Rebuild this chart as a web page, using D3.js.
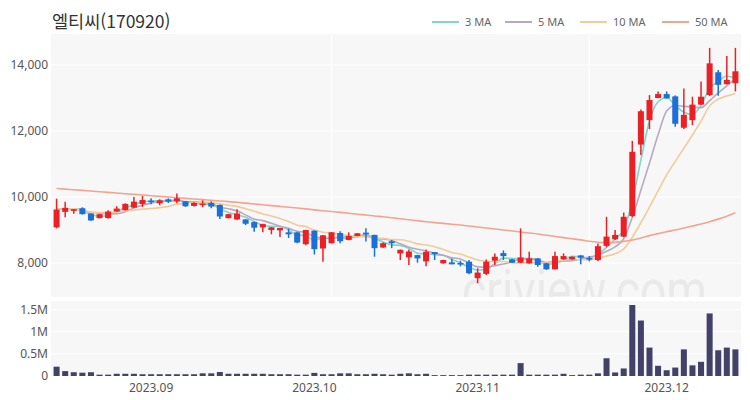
<!DOCTYPE html>
<html lang="ko">
<head>
    <meta charset="UTF-8">
    <script src="https://d3js.org/d3.v7.min.js"></script>
    <title>엘티씨(170920)</title>
    <style>
        body {
            margin: 0;
            overflow: hidden;
            background: white;
        }

        text {
            font-family: "Noto Sans CJK KR", "Noto Sans", sans-serif;
        }
    </style>
</head>
<body>
    <script>
        const width = 750,
              height = 400;

        // trading days, 2023
        const dates = [
            "08-17","08-18","08-21","08-22","08-23","08-24","08-25","08-28","08-29","08-30","08-31",
            "09-01","09-04","09-05","09-06","09-07","09-08","09-11","09-12","09-13","09-14","09-15",
            "09-18","09-19","09-20","09-21","09-22","09-25","09-26","09-27",
            "10-04","10-05","10-06","10-10","10-11","10-12","10-13","10-16","10-17","10-18","10-19",
            "10-20","10-23","10-24","10-25","10-26","10-27","10-30","10-31",
            "11-01","11-02","11-03","11-06","11-07","11-08","11-09","11-10","11-13","11-14","11-15",
            "11-16","11-17","11-20","11-21","11-22","11-23","11-24","11-27","11-28","11-29","11-30",
            "12-01","12-04","12-05","12-06","12-07","12-08","12-11","12-12","12-13"
        ];

        const open = [
            9080, 9550, 9580, 9660, 9500, 9360, 9360, 9560, 9600, 9680, 9790, 9890, 9810, 9930, 9870, 9870,
            9730, 9760, 9820, 9760, 9360, 9320, 9320, 9240, 9080, 9000, 8990, 8930, 8930, 8570, 8980, 8440,
            8600, 8910, 8700, 8820, 8920, 8850, 8470, 8660, 8290, 8170, 8240, 8050, 8330, 7990, 8020, 8000,
            8040, 7540, 7670, 8070, 8300, 8110, 8010, 7990, 8140, 7990, 7810, 8110, 8110, 8230, 8150, 8090,
            8520, 8720, 8800, 9420, 11590, 12330, 13000, 13120, 13050, 12100, 12330, 12800, 13090, 13780, 13420, 13450
        ];
        const high = [
            9950, 9860, 9640, 9690, 9510, 9490, 9600, 9720, 9810, 10000, 10030, 9960, 9930, 9960, 10110, 9880,
            9840, 9900, 9870, 9770, 9490, 9630, 9330, 9260, 9190, 9090, 9070, 9040, 8950, 9010, 8990, 8850,
            8940, 8960, 8930, 8910, 9050, 8860, 8620, 8700, 8410, 8410, 8250, 8410, 8330, 8100, 8140, 8070,
            8090, 7840, 8110, 8290, 8380, 8130, 9050, 8340, 8150, 8000, 8340, 8290, 8200, 8240, 8210, 8590,
            9400, 9000, 9530, 11700, 12650, 13090, 13200, 13200, 13080, 13290, 13040, 13500, 14520, 13850, 14270, 14520
        ];
        const low = [
            9050, 9390, 9490, 9470, 9270, 9350, 9350, 9550, 9590, 9670, 9700, 9780, 9750, 9820, 9810, 9700,
            9710, 9690, 9660, 9330, 9350, 9300, 9150, 8950, 8930, 8870, 8790, 8760, 8600, 8540, 8260, 8040,
            8590, 8600, 8690, 8810, 8650, 8190, 8460, 8450, 8090, 7940, 8010, 7900, 8090, 7980, 7960, 7900,
            7660, 7390, 7640, 7940, 8090, 8000, 8000, 7980, 7890, 7790, 7800, 8100, 8100, 7960, 8050, 8060,
            8480, 8700, 8780, 9400, 11270, 12060, 12990, 12980, 12130, 12060, 12180, 12790, 13060, 13070, 13410, 13200
        ];
        const close = [
            9620, 9670, 9630, 9480, 9290, 9480, 9560, 9650, 9790, 9860, 9910, 9860, 9900, 9860, 9960, 9720,
            9820, 9800, 9710, 9410, 9480, 9500, 9190, 9070, 9180, 9080, 9060, 8870, 8620, 9000, 8420, 8840,
            8930, 8660, 8820, 8900, 8870, 8450, 8600, 8600, 8400, 8350, 8140, 8340, 8270, 8090, 7960, 7960,
            7690, 7710, 8040, 8190, 8210, 8010, 8170, 8140, 7940, 7810, 8210, 8210, 8190, 8160, 8120, 8510,
            8800, 8850, 9400, 11370, 12600, 12940, 13120, 12990, 12220, 12490, 12800, 13040, 14050, 13400, 13550, 13810
        ];
        const volume = [
            210000, 110000, 85000, 75000, 85000, 30000, 30000, 50000, 50000, 50000, 40000, 40000, 40000, 40000, 40000, 40000,
            40000, 60000, 60000, 90000, 50000, 50000, 50000, 50000, 50000, 40000, 40000, 40000, 30000, 30000, 70000, 40000,
            40000, 60000, 60000, 40000, 40000, 50000, 40000, 30000, 50000, 60000, 40000, 50000, 20000, 20000, 20000, 20000,
            30000, 30000, 30000, 30000, 30000, 30000, 290000, 30000, 30000, 30000, 30000, 50000, 20000, 30000, 30000, 60000,
            400000, 80000, 170000, 1600000, 1250000, 640000, 230000, 130000, 190000, 600000, 240000, 320000, 1410000, 580000, 640000, 600000
        ];
        // 50 day average (needs history before the window)
        const ma50 = [
            10260, 10240, 10220, 10200, 10180, 10160, 10140, 10120, 10100, 10080, 10060, 10040, 10020, 10000, 9980, 9960,
            9940, 9920, 9900, 9880, 9860, 9840, 9815, 9790, 9765, 9740, 9715, 9690, 9665, 9640, 9610, 9585,
            9560, 9535, 9510, 9480, 9455, 9425, 9400, 9370, 9340, 9310, 9280, 9250, 9225, 9200, 9175, 9150,
            9120, 9090, 9060, 9030, 9000, 8970, 8940, 8910, 8880, 8840, 8805, 8770, 8735, 8700, 8660, 8630,
            8615, 8625, 8655, 8700, 8760, 8830, 8890, 8950, 9000, 9060, 9120, 9180, 9250, 9330, 9420, 9520
        ];

        const monthTicks = ["09-01", "10-04", "11-01", "12-01"];
        const monthLabels = ["2023.09", "2023.10", "2023.11", "2023.12"];
        const priceTicks = [8000, 10000, 12000, 14000];
        const volTicks = [0, 500000, 1000000, 1500000];
        const gridCols = ["10-06", "11-20"];

        const maNames = ["3 MA", "5 MA", "10 MA", "50 MA"];
        const maColors = ["#7fd6c9", "#b7a9c4", "#f2cb98", "#f5a28f"];

        const up = "#ec1f25", down = "#1b6fd8";

        const candles = dates.map((d, i) => ({
            date: d, o: open[i], h: high[i], l: low[i], c: close[i], v: volume[i]
        }));

        const movingAvg = (n) => close.map((c, i) => {
            const s = close.slice(Math.max(0, i - n + 1), i + 1);
            return d3.mean(s);
        });

        const maSeries = [movingAvg(3), movingAvg(5), movingAvg(10), ma50];

        const left = 51, right = 741;
        const pTop = 34, pBottom = 297;
        const vTop = 301, vBottom = 376;

        const svg = d3.select('body')
            .append('svg')
            .attr('width', width)
            .attr('height', height);

        const x = d3.scaleBand()
            .domain(dates)
            .range([left, right])
            .padding(0.3);

        const cx = (d) => x(d) + x.bandwidth() / 2;

        const y = d3.scaleLinear()
            .domain([6970, 14940])
            .range([pBottom, pTop]);

        const yv = d3.scaleLinear()
            .domain([0, 1690000])
            .range([vBottom, vTop]);

        // panels
        svg.append('rect')
            .attr('x', left).attr('y', pTop)
            .attr('width', right - left).attr('height', pBottom - pTop)
            .attr('fill', '#f7f7f7');
        svg.append('rect')
            .attr('x', left).attr('y', vTop)
            .attr('width', right - left).attr('height', vBottom - vTop)
            .attr('fill', '#f7f7f7');

        svg.append('defs').append('clipPath')
            .attr('id', 'pclip')
            .append('rect')
            .attr('x', left).attr('y', pTop)
            .attr('width', right - left).attr('height', pBottom - pTop);

        // grid
        svg.append('g')
            .selectAll('line')
            .data(priceTicks)
            .enter()
            .append('line')
            .attr('x1', left).attr('x2', right)
            .attr('y1', d => y(d)).attr('y2', d => y(d))
            .attr('stroke', 'white').attr('stroke-width', 1);

        svg.append('g')
            .selectAll('line')
            .data(volTicks.slice(1))
            .enter()
            .append('line')
            .attr('x1', left).attr('x2', right)
            .attr('y1', d => yv(d)).attr('y2', d => yv(d))
            .attr('stroke', 'white').attr('stroke-width', 1);

        svg.append('g')
            .selectAll('line')
            .data(gridCols)
            .enter()
            .append('line')
            .attr('x1', d => cx(d)).attr('x2', d => cx(d))
            .attr('y1', pTop).attr('y2', pBottom)
            .attr('stroke', 'white').attr('stroke-width', 1.5);

        // watermark
        svg.append('text')
            .attr('clip-path', 'url(#pclip)')
            .attr('x', 462)
            .attr('y', 310)
            .attr('font-size', 58)
            .attr('textLength', 245)
            .attr('lengthAdjust', 'spacingAndGlyphs')
            .attr('fill', '#e9e9e9')
            .style('font-family', 'Roboto, sans-serif')
            .text('criview.com');

        // moving averages
        maSeries.forEach((vals, k) => {
            const line = d3.line()
                .x((d, i) => cx(dates[i]))
                .y(d => y(d))
                .curve(d3.curveMonotoneX);
            svg.append('path')
                .datum(vals)
                .attr('fill', 'none')
                .attr('stroke', maColors[k])
                .attr('stroke-width', 1.6)
                .attr('d', line);
        });

        // candles
        const cg = svg.append('g');
        cg.selectAll('line')
            .data(candles)
            .enter()
            .append('line')
            .attr('x1', d => cx(d.date)).attr('x2', d => cx(d.date))
            .attr('y1', d => y(d.h)).attr('y2', d => y(d.l))
            .attr('stroke', d => d.c >= d.o ? up : down)
            .attr('stroke-width', 1.5);

        cg.selectAll('rect')
            .data(candles)
            .enter()
            .append('rect')
            .attr('x', d => x(d.date))
            .attr('width', x.bandwidth())
            .attr('y', d => y(Math.max(d.o, d.c)))
            .attr('height', d => Math.max(1.5, Math.abs(y(d.o) - y(d.c))))
            .attr('fill', d => d.c >= d.o ? up : down);

        // volume
        svg.append('g')
            .selectAll('rect')
            .data(candles)
            .enter()
            .append('rect')
            .attr('x', d => x(d.date))
            .attr('width', x.bandwidth())
            .attr('y', d => yv(d.v))
            .attr('height', d => yv(0) - yv(d.v))
            .attr('fill', '#41416a');

        // axes
        const yAxis = svg.append('g')
            .attr('transform', `translate(${left}, 0)`)
            .call(d3.axisLeft(y).tickValues(priceTicks).tickFormat(d3.format(',')).tickSize(0).tickPadding(3));

        const vAxis = svg.append('g')
            .attr('transform', `translate(${left}, 0)`)
            .call(d3.axisLeft(yv).tickValues(volTicks)
                .tickFormat(d => d === 0 ? '0' : (d / 1e6) + 'M')
                .tickSize(0).tickPadding(3));

        const xAxis = svg.append('g')
            .attr('transform', `translate(0, ${vBottom})`)
            .call(d3.axisBottom(x).tickValues(monthTicks)
                .tickFormat((d, i) => monthLabels[i])
                .tickSize(0).tickPadding(7));

        [yAxis, vAxis, xAxis].forEach(g => {
            g.select('.domain').remove();
            g.selectAll('.tick text')
                .attr('fill', '#555')
                .attr('font-size', 12)
                .style('font-family', '"Noto Sans", sans-serif');
        });

        // title
        svg.append('text')
            .attr('x', 52)
            .attr('y', 28)
            .attr('font-size', 17.5)
            .attr('fill', '#333')
            .text('엘티씨(170920)');

        // legend
        const legendX = [432, 505, 580, 662];
        const legend = svg.append('g');
        legend.selectAll('line')
            .data(maNames)
            .enter()
            .append('line')
            .attr('x1', (d, i) => legendX[i])
            .attr('x2', (d, i) => legendX[i] + 27)
            .attr('y1', 22).attr('y2', 22)
            .attr('stroke', (d, i) => maColors[i])
            .attr('stroke-width', 2);

        legend.selectAll('text')
            .data(maNames)
            .enter()
            .append('text')
            .attr('x', (d, i) => legendX[i] + 33)
            .attr('y', 22)
            .attr('dy', '.35em')
            .attr('font-size', 11)
            .attr('fill', '#666')
            .style('font-family', '"Noto Sans", sans-serif')
            .text(d => d);
    </script>
</body>
</html>
